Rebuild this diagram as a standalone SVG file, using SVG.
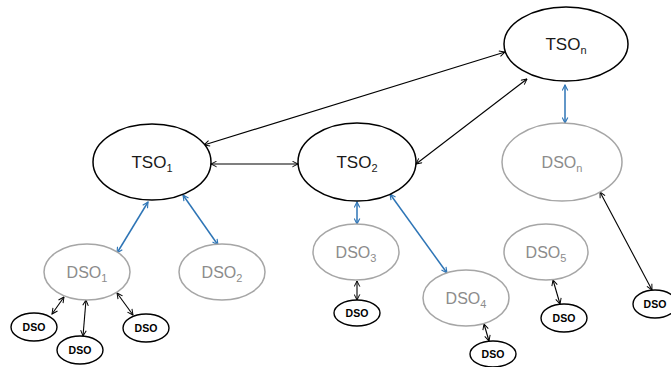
<svg xmlns="http://www.w3.org/2000/svg" width="671" height="367" viewBox="0 0 671 367">
<style>
.tso{fill:#fff;stroke:#000;stroke-width:1.5}
.dso{fill:#fff;stroke:#a6a6a6;stroke-width:1.5}
.sm{fill:#fff;stroke:#000;stroke-width:1.4}
.tt{font-family:"Liberation Sans",Arial,sans-serif;font-size:17px;fill:#1a1a1a;text-anchor:middle}
.dt{font-family:"Liberation Sans",Arial,sans-serif;font-size:16px;fill:#8c8c8c;text-anchor:middle}
.st{font-family:"Liberation Sans",Arial,sans-serif;font-size:10.5px;font-weight:bold;fill:#000;text-anchor:middle}
.sub{font-size:11px}
.bk{stroke:#000;stroke-width:1.1;fill:none;marker-start:url(#ab);marker-end:url(#ab)}
.bl{stroke:#2e75b6;stroke-width:1.5;fill:none;marker-start:url(#au);marker-end:url(#au)}
</style>
<defs>
<marker id="ab" viewBox="0 0 10 10" refX="9" refY="5" markerWidth="7" markerHeight="7" markerUnits="userSpaceOnUse" orient="auto-start-reverse">
<path d="M1,1 L9,5 L1,9" fill="none" stroke="#000" stroke-width="1.4"/>
</marker>
<marker id="au" viewBox="0 0 10 10" refX="9" refY="5" markerWidth="7" markerHeight="7" markerUnits="userSpaceOnUse" orient="auto-start-reverse">
<path d="M1,1 L9,5 L1,9" fill="none" stroke="#2e75b6" stroke-width="1.6"/>
</marker>
</defs>
<rect width="671" height="367" fill="#fff"/>
<g id="connectors">
<line class="bk" x1="204" y1="145" x2="505" y2="52"/>
<line class="bk" x1="211" y1="164" x2="298" y2="164"/>
<line class="bk" x1="416" y1="164" x2="527" y2="79"/>
<line class="bk" x1="600" y1="192" x2="652" y2="290"/>
<line class="bk" x1="553" y1="280" x2="560" y2="304"/>
<line class="bk" x1="484" y1="324" x2="489" y2="341"/>
<line class="bk" x1="357" y1="281" x2="357" y2="300"/>
<line class="bk" x1="64" y1="297" x2="52" y2="314"/>
<line class="bk" x1="86" y1="300" x2="83" y2="336"/>
<line class="bk" x1="117" y1="293" x2="133" y2="315"/>
<line class="bl" x1="148" y1="202" x2="117" y2="253"/>
<line class="bl" x1="183" y1="195" x2="218" y2="245"/>
<line class="bl" x1="357" y1="202" x2="357" y2="224"/>
<line class="bl" x1="390" y1="194" x2="447" y2="273"/>
<line class="bl" x1="565" y1="85" x2="565" y2="123"/>
</g>
<g id="tso1"><ellipse class="tso" cx="152" cy="162" rx="59" ry="38"/><text class="tt" x="152" y="168">TSO<tspan class="sub" dy="4">1</tspan></text></g>
<g id="tso2"><ellipse class="tso" cx="357" cy="162" rx="59" ry="39"/><text class="tt" x="357" y="168">TSO<tspan class="sub" dy="4">2</tspan></text></g>
<g id="tson"><ellipse class="tso" cx="566" cy="44" rx="62" ry="37"/><text class="tt" x="566" y="50">TSO<tspan class="sub" dy="4">n</tspan></text></g>
<g id="dson"><ellipse class="dso" cx="562" cy="162" rx="60" ry="39"/><text class="dt" x="562" y="168">DSO<tspan class="sub" dy="4">n</tspan></text></g>
<g id="dso1"><ellipse class="dso" cx="87" cy="272" rx="43" ry="28"/><text class="dt" x="87" y="278">DSO<tspan class="sub" dy="4">1</tspan></text></g>
<g id="dso2"><ellipse class="dso" cx="222" cy="272" rx="43" ry="28"/><text class="dt" x="222" y="278">DSO<tspan class="sub" dy="4">2</tspan></text></g>
<g id="dso3"><ellipse class="dso" cx="356" cy="252" rx="43" ry="28"/><text class="dt" x="356" y="258">DSO<tspan class="sub" dy="4">3</tspan></text></g>
<g id="dso4"><ellipse class="dso" cx="466" cy="298" rx="43" ry="28"/><text class="dt" x="466" y="304">DSO<tspan class="sub" dy="4">4</tspan></text></g>
<g id="dso5"><ellipse class="dso" cx="546" cy="252" rx="42" ry="28"/><text class="dt" x="546" y="258">DSO<tspan class="sub" dy="4">5</tspan></text></g>
<g id="dso1a"><ellipse class="sm" cx="34" cy="327" rx="23" ry="14"/><text class="st" x="34" y="331">DSO</text></g>
<g id="dso1b"><ellipse class="sm" cx="80" cy="350" rx="23" ry="14"/><text class="st" x="80" y="354">DSO</text></g>
<g id="dso1c"><ellipse class="sm" cx="146" cy="328" rx="23" ry="14"/><text class="st" x="146" y="332">DSO</text></g>
<g id="dso3a"><ellipse class="sm" cx="357" cy="313" rx="23" ry="13"/><text class="st" x="357" y="317">DSO</text></g>
<g id="dso4a"><ellipse class="sm" cx="493" cy="354" rx="23" ry="13"/><text class="st" x="493" y="358">DSO</text></g>
<g id="dso5a"><ellipse class="sm" cx="564" cy="318" rx="23" ry="14"/><text class="st" x="564" y="322">DSO</text></g>
<g id="dsona"><ellipse class="sm" cx="655" cy="304" rx="22" ry="14"/><text class="st" x="655" y="308">DSO</text></g>
</svg>
